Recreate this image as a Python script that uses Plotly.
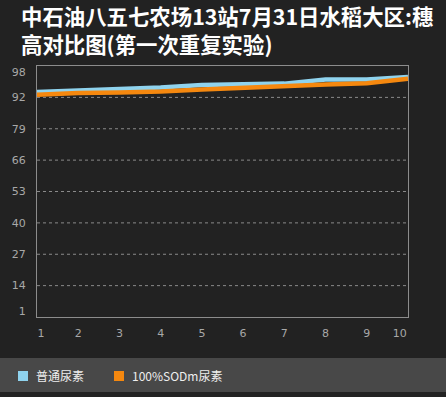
import plotly.graph_objects as go

# ---- data ----
categories = [1, 2, 3, 4, 5, 6, 7, 8, 9, 10]
series_names = ["普通尿素", "100%SODm尿素"]
urea_values = [94.2, 95.0, 95.5, 96.1, 97.1, 97.4, 97.7, 99.4, 99.4, 100.4]
sodm_values = [93.1, 93.8, 94.0, 94.4, 95.3, 96.1, 96.5, 97.3, 97.9, 99.7]
y_tick_labels = ["1", "14", "27", "40", "53", "66", "79", "92", "98"]
x_tick_labels = ["1", "2", "3", "4", "5", "6", "7", "8", "9", "10"]
grid_values = [14, 27, 40, 53, 66, 79, 92]
title_lines = ["中石油八五七农场13站7月31日水稻大区:穗", "高对比图(第一次重复实验)"]

# ---- style ----
W, H = 446, 397
ML, MR, MT, MB = 37, 38, 66, 80
BG = "#222222"
colors = ["#8fd3ee", "#f5880f"]
tick_color = "#a8a8a8"
Y_MIN, Y_MAX = 1, 105

def px_x(px):
    return (px - ML) / (W - ML - MR)

def px_y(py):
    return (H - MB - py) / (H - MT - MB)

fig = go.Figure()
for name, vals, col in zip(series_names, [urea_values, sodm_values], colors):
    fig.add_trace(go.Scatter(
        x=categories, y=vals, name=name, mode="lines",
        line=dict(color=col, width=4.5),
        showlegend=False, hoverinfo="skip",
    ))

shapes = []
for g in grid_values:
    shapes.append(dict(type="line", xref="paper", yref="y", x0=0, x1=1, y0=g, y1=g,
                       line=dict(color="#8a8a8a", width=1, dash="dot"), layer="below"))

# legend bar
shapes.append(dict(type="rect", xref="paper", yref="paper",
                   x0=px_x(0), x1=px_x(W), y0=px_y(392), y1=px_y(358),
                   fillcolor="#484848", line=dict(width=0), layer="below"))

annotations = []
legend_x = [18, 114]
for i, (name, col) in enumerate(zip(series_names, colors)):
    x0 = legend_x[i]
    shapes.append(dict(type="rect", xref="paper", yref="paper",
                       x0=px_x(x0), x1=px_x(x0 + 10), y0=px_y(381), y1=px_y(371),
                       fillcolor=col, line=dict(width=0)))
    annotations.append(dict(text=name, xref="paper", yref="paper",
                            x=px_x(x0 + 16), y=px_y(375.5), xanchor="left", yanchor="middle",
                            showarrow=False,
                            font=dict(family="Noto Sans CJK SC", size=12, color="#eeeeee")))

# title (two lines)
title_centers = [15.5, 43.5]
for line, cy in zip(title_lines, title_centers):
    annotations.append(dict(text=line, xref="paper", yref="paper",
                            x=px_x(19), y=px_y(cy), xanchor="left", yanchor="middle",
                            align="left", showarrow=False,
                            font=dict(family="Noto Sans CJK SC", size=21.4, color="#ffffff",
                                      weight="bold")))

# tick positions (labels at ends nudged like the reference)
y_tick_pos = [float(t) for t in y_tick_labels]
y_tick_pos[0] += 2.5
y_tick_pos[-1] += 4.5
x_tick_pos = [float(c) for c in categories]
x_tick_pos[0] += 0.1
x_tick_pos[-1] -= 0.2

fig.update_layout(
    width=W, height=H, autosize=False,
    margin=dict(l=ML, r=MR, t=MT, b=MB),
    paper_bgcolor=BG, plot_bgcolor=BG,
    xaxis=dict(range=[1, 10], tickvals=x_tick_pos, ticktext=x_tick_labels,
               showgrid=False, zeroline=False, showline=True, mirror=True,
               linecolor="#8c8c8c", linewidth=1, ticks="",
               ticklabelstandoff=6,
               tickfont=dict(family="DejaVu Sans", size=11, color=tick_color)),
    yaxis=dict(range=[Y_MIN, Y_MAX], tickvals=y_tick_pos, ticktext=y_tick_labels,
               showgrid=False, zeroline=False, showline=True, mirror=True,
               linecolor="#8c8c8c", linewidth=1, ticks="",
               ticklabelstandoff=8,
               tickfont=dict(family="DejaVu Sans", size=11, color=tick_color)),
    shapes=shapes,
    annotations=annotations,
    showlegend=False,
)

fig.write_html("out.html",
               config={"displayModeBar": False},
               post_script="document.body.style.margin='0';document.body.style.background='#222222';")
